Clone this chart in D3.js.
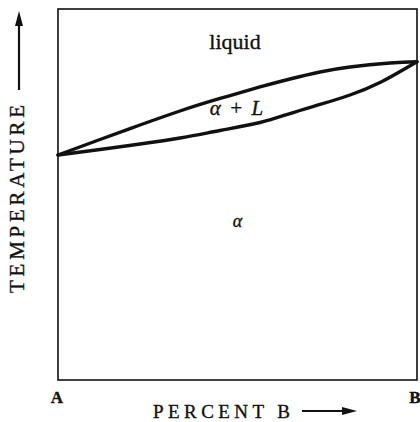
<!DOCTYPE html>
<html>
<head>
<meta charset="utf-8">
<script src="https://cdn.jsdelivr.net/npm/d3@7"></script>
<style>
  html, body { margin: 0; padding: 0; background: #fff; }
  svg { display: block; }
  text { font-family: "Liberation Serif", "DejaVu Serif", serif; fill: #111; stroke: #111; stroke-width: 0.35; }
</style>
</head>
<body>
<svg id="chart" width="420" height="422"></svg>
<script>
// Composition (% B) and temperature (relative, 0-100)
const liquidusX = [0, 11.7, 22.84, 33.98, 45.13, 56.27, 64.62, 72.98, 81.34, 92.48, 100];
const liquidusT = [60.65, 64.82, 68.73, 72.51, 75.88, 78.98, 81.13, 83.02, 84.37, 85.44, 85.8];
const solidusX  = [0, 11.7, 22.84, 33.98, 45.13, 56.27, 64.62, 72.98, 81.34, 89.69, 100];
const solidusT  = [60.65, 62.13, 63.61, 65.23, 67.25, 69.41, 71.83, 74.26, 76.82, 80.19, 85.8];

const regionLabels = [
  { text: "liquid", x: 49.3, t: 89.2, italic: false, size: 22 },
  { text: "α + L", x: 49.7, t: 71.4, italic: true, size: 21 },
  { text: "α",     x: 50.0, t: 41.3, italic: true, size: 18 }
];
const endLabels = [ { text: "A", x: 0 }, { text: "B", x: 100 } ];
const xTitle = "PERCENT B";
const yTitle = "TEMPERATURE";

(function () {
const svg = d3.select("#chart");
const mLeft = 58, mRight = 417, mTop = 9, mBottom = 380;
const x = d3.scaleLinear().domain([0, 100]).range([mLeft, mRight]);
const y = d3.scaleLinear().domain([0, 100]).range([mBottom, mTop]);

// frame
svg.append("rect")
  .attr("x", x(0)).attr("y", y(100))
  .attr("width", x(100) - x(0)).attr("height", y(0) - y(100))
  .attr("fill", "none").attr("stroke", "#111").attr("stroke-width", 1.6);

const line = d3.line()
  .x(d => x(d[0])).y(d => y(d[1]))
  .curve(d3.curveNatural);

const liq = liquidusX.map((v, i) => [v, liquidusT[i]]);
const sol = solidusX.map((v, i) => [v, solidusT[i]]);

[liq, sol].forEach(pts => {
  svg.append("path").attr("d", line(pts))
    .attr("fill", "none").attr("stroke", "#111")
    .attr("stroke-width", 3.4).attr("stroke-linecap", "round");
});

// region labels
regionLabels.forEach(l => {
  svg.append("text")
    .attr("x", x(l.x)).attr("y", y(l.t))
    .attr("text-anchor", "middle")
    .attr("font-size", l.size)
    .attr("font-style", l.italic ? "italic" : "normal")
    .attr("word-spacing", l.italic ? 3 : 0)
    .text(l.text);
});

// end labels A / B
endLabels.forEach(l => {
  svg.append("text")
    .attr("x", x(l.x) + (l.x === 0 ? -1 : -2)).attr("y", 403)
    .attr("text-anchor", "middle")
    .attr("font-size", 17).attr("font-weight", "bold")
    .text(l.text);
});

// x title + arrow
svg.append("text")
  .attr("x", 153).attr("y", 418)
  .attr("font-size", 19)
  .attr("textLength", 137).attr("lengthAdjust", "spacing")
  .text(xTitle);
svg.append("line").attr("x1", 302).attr("x2", 346).attr("y1", 411).attr("y2", 411)
  .attr("stroke", "#111").attr("stroke-width", 2.2);
svg.append("path").attr("d", "M357,411 L342,407 L342,415 Z").attr("fill", "#111");

// y title + arrow
svg.append("text")
  .attr("transform", "translate(24,293) rotate(-90)")
  .attr("font-size", 21)
  .attr("textLength", 188).attr("lengthAdjust", "spacing")
  .text(yTitle);
svg.append("line").attr("x1", 19).attr("x2", 19).attr("y1", 90).attr("y2", 22)
  .attr("stroke", "#111").attr("stroke-width", 2.2);
svg.append("path").attr("d", "M19,11 L15,26 L23,26 Z").attr("fill", "#111");
})();
</script>
</body>
</html>
